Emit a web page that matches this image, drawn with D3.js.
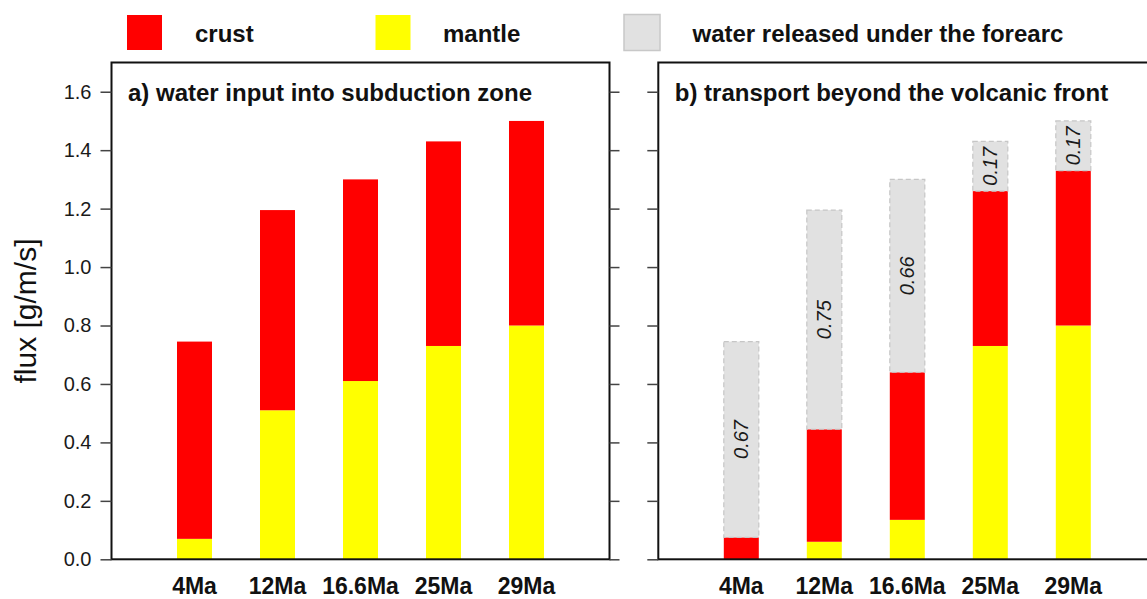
<!DOCTYPE html>
<html>
<head>
<meta charset="utf-8">
<script src="https://cdn.jsdelivr.net/npm/d3@7"></script>
<style>
  body { margin: 0; background: #fff; }
  svg { display: block; }
  text { font-family: "Liberation Sans", Arial, Helvetica, sans-serif; }
</style>
</head>
<body>
<svg id="chart" width="1147" height="599"></svg>
<script>
// Water fluxes per slab age (g/m/s)
const categories = ["4Ma", "12Ma", "16.6Ma", "25Ma", "29Ma"];

// a) water input into the subduction zone
const inputMantle = [0.07, 0.51, 0.61, 0.73, 0.80];
const inputCrust  = [0.675, 0.685, 0.69, 0.70, 0.70];

// b) water carried beyond the volcanic front, plus what is lost under the forearc
const beyondMantle   = [0.0, 0.06, 0.135, 0.73, 0.80];
const beyondCrust    = [0.075, 0.385, 0.505, 0.53, 0.53];
const forearcRelease = [0.67, 0.75, 0.66, 0.17, 0.17];

const yTicks = [0, 0.2, 0.4, 0.6, 0.8, 1.0, 1.2, 1.4, 1.6];
const yTickLabels = ["0.0", "0.2", "0.4", "0.6", "0.8", "1.0", "1.2", "1.4", "1.6"];

const legendLabels = ["crust", "mantle", "water released under the forearc"];
const panelTitles = ["a) water input into subduction zone", "b) transport beyond the volcanic front"];
const yAxisTitle = "flux [g/m/s]";

// ---- layout & style ----
const colors = { crust: "#ff0000", mantle: "#ffff00", forearc: "#e1e1e1" };
const plotTop = 62.5, plotBottom = 559.3;
const panelW = 498;
const panels = [
  { x0: 111.5, keys: ["mantle", "crust"], title: panelTitles[0] },
  { x0: 658.3, keys: ["mantle", "crust", "forearc"], title: panelTitles[1] }
];
const barW = 35;

const svg = d3.select("#chart");

const y = d3.scaleLinear().domain([0, 1.7]).range([plotBottom, plotTop]);

const rowsA = categories.map((c, i) => ({ cat: c, mantle: inputMantle[i], crust: inputCrust[i] }));
const rowsB = categories.map((c, i) => ({ cat: c, mantle: beyondMantle[i], crust: beyondCrust[i], forearc: forearcRelease[i] }));
const rowSets = [rowsA, rowsB];

panels.forEach((p, pi) => {
  const x = d3.scalePoint().domain(categories).range([p.x0, p.x0 + panelW]).padding(1);
  const g = svg.append("g");
  const series = d3.stack().keys(p.keys)(rowSets[pi]);

  // stacked bars
  series.forEach(s => {
    const isForearc = s.key === "forearc";
    g.append("g").selectAll("rect").data(s).join("rect")
      .attr("x", d => x(d.data.cat) - barW / 2)
      .attr("width", barW)
      .attr("y", d => y(d[1]))
      .attr("height", d => Math.max(0, y(d[0]) - y(d[1])))
      .attr("fill", colors[s.key])
      .attr("stroke", isForearc ? "#c6c6c6" : "none")
      .attr("stroke-width", isForearc ? 1.2 : 0)
      .attr("stroke-dasharray", isForearc ? "5,3" : null);

    if (isForearc) {
      // value of the forearc release written inside its segment
      g.append("g").selectAll("text").data(s).join("text")
        .attr("transform", d => `translate(${x(d.data.cat)},${(y(d[0]) + y(d[1])) / 2}) rotate(-90)`)
        .attr("text-anchor", "middle")
        .attr("dominant-baseline", "central")
        .attr("font-size", 20)
        .attr("font-style", "italic")
        .attr("fill", "#1a1a1a")
        .text(d => d3.format(".2f")(d.data.forearc));
    }
  });

  // frame
  g.append("rect")
    .attr("x", p.x0).attr("y", plotTop)
    .attr("width", panelW).attr("height", plotBottom - plotTop)
    .attr("fill", "none").attr("stroke", "#111").attr("stroke-width", 2);

  // outward ticks on the left edge
  const leftAxis = d3.axisLeft(y).tickValues(yTicks).tickSize(11).tickPadding(9)
    .tickFormat(pi === 0 ? ((d, i) => yTickLabels[i]) : "");
  const la = g.append("g").attr("transform", `translate(${p.x0},0)`).call(leftAxis);
  la.select(".domain").remove();
  la.selectAll(".tick line").attr("stroke", "#444").attr("stroke-width", 1.5);
  la.selectAll(".tick text").attr("font-size", 20).attr("fill", "#1a1a1a")
    .attr("font-family", "Liberation Sans, Arial, sans-serif");

  if (pi === 0) {
    // outward ticks on the right edge of the first panel
    const ra = g.append("g").attr("transform", `translate(${p.x0 + panelW},0)`)
      .call(d3.axisRight(y).tickValues(yTicks).tickSize(10).tickFormat(""));
    ra.select(".domain").remove();
    ra.selectAll(".tick line").attr("stroke", "#444").attr("stroke-width", 1.5);
  }

  // category labels
  g.append("g").selectAll("text").data(categories).join("text")
    .attr("x", d => x(d))
    .attr("y", 594)
    .attr("text-anchor", "middle")
    .attr("font-size", 23)
    .attr("font-weight", "bold")
    .attr("fill", "#111")
    .text(d => d);

  // panel title
  g.append("text")
    .attr("x", p.x0 + 16.5)
    .attr("y", 100.5)
    .attr("font-size", 24)
    .attr("font-weight", "bold")
    .attr("fill", "#111")
    .text(p.title);
});

// y-axis title
svg.append("text")
  .attr("transform", `translate(36,311) rotate(-90)`)
  .attr("text-anchor", "middle")
  .attr("font-size", 30)
  .attr("fill", "#111")
  .text(yAxisTitle);

// legend
const legendKeys = ["crust", "mantle", "forearc"];
const legendBoxX = [127, 375.5, 624];
const legendTextX = [195, 443, 692.5];
const lg = svg.append("g");
legendKeys.forEach((k, i) => {
  lg.append("rect")
    .attr("x", legendBoxX[i]).attr("y", k === "forearc" ? 14.5 : 15)
    .attr("width", k === "forearc" ? 36 : 35).attr("height", k === "forearc" ? 36 : 35)
    .attr("fill", colors[k])
    .attr("stroke", k === "forearc" ? "#c8c8c8" : "none")
    .attr("stroke-width", k === "forearc" ? 1.5 : 0);
  lg.append("text")
    .attr("x", legendTextX[i]).attr("y", 41.5)
    .attr("font-size", 24)
    .attr("font-weight", "bold")
    .attr("fill", "#111")
    .text(legendLabels[i]);
});
</script>
</body>
</html>
